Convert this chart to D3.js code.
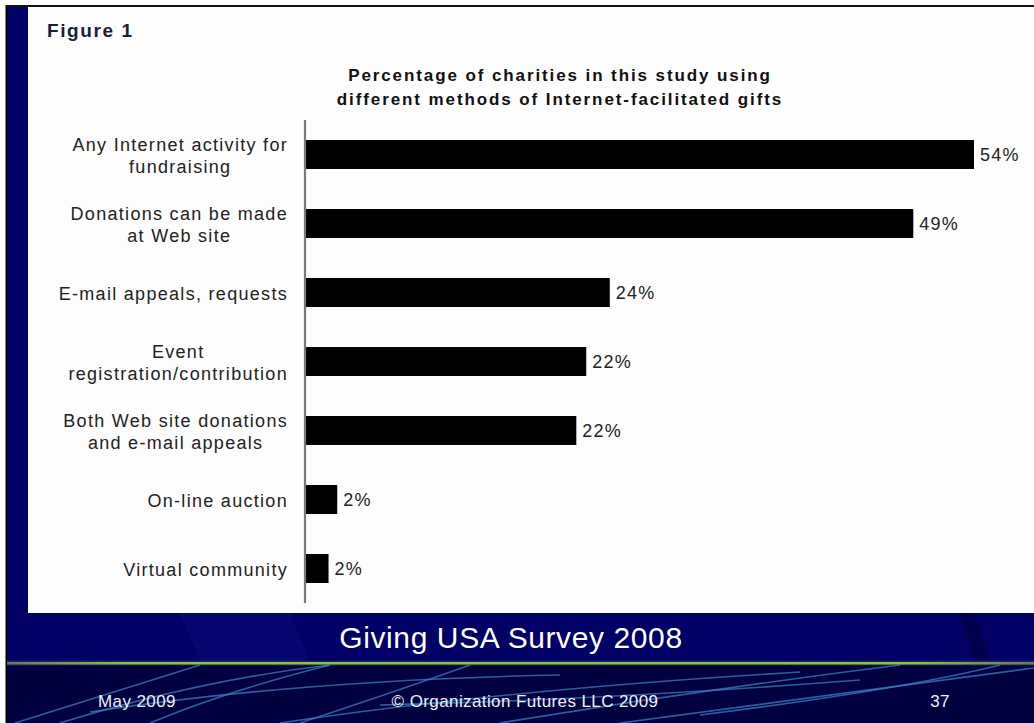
<!DOCTYPE html>
<html>
<head>
<meta charset="utf-8">
<script src="https://cdn.jsdelivr.net/npm/d3@7"></script>
<style>
  body { margin: 0; background: #fff; }
  svg { display: block; font-family: Arial, "Liberation Sans", sans-serif; }
</style>
</head>
<body>
<div id="chart-area"></div>
<script>
let width = 1034,
height = 723;

// data
let categories = [
  ["Any Internet activity for", "fundraising"],
  ["Donations can be made", "at Web site"],
  ["E-mail appeals, requests"],
  ["Event", "registration/contribution"],
  ["Both Web site donations", "and e-mail appeals"],
  ["On-line auction"],
  ["Virtual community"]
];
let values = [54, 49.1, 24.6, 22.7, 21.9, 2.6, 1.9];
let valueLabels = ["54%", "49%", "24%", "22%", "22%", "2%", "2%"];

let figureLabel = "Figure 1";
let titleLines = ["Percentage of charities in this study using", "different methods of Internet-facilitated gifts"];
let footerTitle = "Giving USA Survey 2008";
let footerLeft = "May 2009",
footerMid = "\u00a9 Organization Futures LLC 2009",
footerRight = "37";

let svg = d3.select("#chart-area").append("svg")
.attr("width", width)
.attr("height", height);

// slide background
svg.append("rect").attr("x", 7).attr("y", 6).attr("width", width - 7).attr("height", height - 6).attr("fill", "#000066");
svg.append("rect").attr("x", 7).attr("y", 664).attr("width", width - 7).attr("height", height - 664).attr("fill", "#000040");
svg.append("line").attr("x1", 6.5).attr("x2", 6.5).attr("y1", 5).attr("y2", height).attr("stroke", "#000").attr("stroke-width", 2);
svg.append("line").attr("x1", 6).attr("x2", width).attr("y1", 6).attr("y2", 6).attr("stroke", "#111").attr("stroke-width", 2);

// soft panes in the upper footer
svg.append("path").attr("d", "M180,613 L290,613 L310,661 L200,661 Z").attr("fill", "#0a0a78").attr("opacity", 0.6);
svg.append("path").attr("d", "M960,613 L975,613 L990,661 L975,661 Z").attr("fill", "#00004a").attr("opacity", 0.8);

// green rule
let grad = svg.append("defs").append("linearGradient").attr("id", "rule");
grad.append("stop").attr("offset", "0%").attr("stop-color", "#6a7078");
grad.append("stop").attr("offset", "12%").attr("stop-color", "#8cc43e");
grad.append("stop").attr("offset", "88%").attr("stop-color", "#8cc43e");
grad.append("stop").attr("offset", "100%").attr("stop-color", "#6a7078");
svg.append("rect").attr("x", 7).attr("y", 660.5).attr("width", width - 7).attr("height", 5).attr("fill", "#2a3a50").attr("opacity", 0.6);
svg.append("rect").attr("x", 7).attr("y", 662).attr("width", width - 7).attr("height", 2.5).attr("fill", "url(#rule)");

// swooshes in the lower footer
let swooshes = [
  "M15,723 Q120,690 200,665",
  "M60,723 Q200,680 330,665",
  "M150,723 Q230,690 330,665",
  "M300,723 Q400,690 470,665",
  "M90,712 Q300,680 560,675",
  "M280,723 Q500,690 800,672",
  "M500,723 Q700,690 900,665",
  "M620,723 Q800,700 1034,668",
  "M700,715 Q900,690 1000,665",
  "M380,705 Q600,700 860,680"
];
svg.selectAll(".swoosh").data(swooshes).enter().append("path")
.attr("class", "swoosh")
.attr("d", d => d)
.attr("fill", "none")
.attr("stroke", "#3d86c6")
.attr("stroke-width", 1.6)
.attr("opacity", 0.7);

// white figure panel
svg.append("rect").attr("x", 28).attr("y", 7).attr("width", width - 28).attr("height", 606).attr("fill", "#fdfdfd");

svg.append("text")
.attr("x", 47).attr("y", 37)
.attr("font-size", 19).attr("font-weight", "bold")
.attr("letter-spacing", 1.6)
.attr("fill", "#1c1c3c")
.text(figureLabel);

svg.append("g").selectAll("text").data(titleLines).enter().append("text")
.attr("x", 560)
.attr("y", (d, i) => 81 + i * 24)
.attr("text-anchor", "middle")
.attr("font-size", 17).attr("font-weight", "bold")
.attr("letter-spacing", 1.9)
.attr("fill", "#111")
.text(d => d);

// scales
let axisX = 305;
let x = d3.scaleLinear().domain([0, 54]).range([axisX, 974]);
let y = d3.scaleBand().domain(d3.range(categories.length))
.range([120, 603]).paddingInner(0.58).paddingOuter(0.29);

svg.selectAll(".bar").data(values).enter().append("rect")
.attr("class", "bar")
.attr("x", x(0) + 1)
.attr("y", (d, i) => y(i))
.attr("width", d => x(d) - x(0) - 1)
.attr("height", y.bandwidth())
.attr("fill", "#000");

svg.selectAll(".val").data(values).enter().append("text")
.attr("class", "val")
.attr("x", d => x(d) + 6)
.attr("y", (d, i) => y(i) + y.bandwidth() / 2)
.attr("dy", "0.36em")
.attr("font-size", 18)
.attr("letter-spacing", 1.2)
.attr("fill", "#222")
.text((d, i) => valueLabels[i]);

// category labels: lines centred within a block right aligned to the axis
let lineH = 22;
let catG = svg.selectAll(".cat").data(categories).enter().append("g").attr("class", "cat");
catG.each(function(lines, i) {
  let g = d3.select(this);
  let cy = y(i) + y.bandwidth() / 2 + 1.5;
  let texts = g.selectAll("text").data(lines).enter().append("text")
    .attr("font-size", 18)
    .attr("letter-spacing", 1.3)
    .attr("fill", "#222")
    .attr("text-anchor", "middle")
    .attr("y", (d, j) => cy + (j - (lines.length - 1) / 2) * lineH)
    .attr("dy", "0.36em")
    .text(d => d);
  let maxW = d3.max(texts.nodes(), n => n.getComputedTextLength());
  texts.attr("x", 288 - maxW / 2);
});

svg.append("line")
.attr("x1", axisX).attr("x2", axisX)
.attr("y1", 120).attr("y2", 603)
.attr("stroke", "#7a7a7a").attr("stroke-width", 2.2);

// footer texts
svg.append("text")
.attr("x", 511).attr("y", 648)
.attr("text-anchor", "middle")
.attr("font-size", 30).attr("letter-spacing", 0.6)
.attr("fill", "#fff")
.text(footerTitle);

let foot = [[footerLeft, 137], [footerMid, 525], [footerRight, 940]];
svg.selectAll(".foot").data(foot).enter().append("text")
.attr("class", "foot")
.attr("x", d => d[1]).attr("y", 707)
.attr("text-anchor", "middle")
.attr("font-size", 17).attr("letter-spacing", 0.4)
.attr("fill", "#f0f0f8")
.text(d => d[0]);
</script>
</body>
</html>
